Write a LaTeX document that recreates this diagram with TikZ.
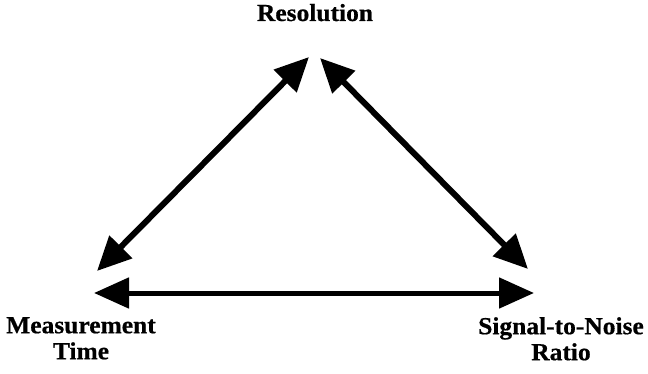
\documentclass[tikz,border=0pt]{standalone}
\usepackage{fontspec}
\setmainfont{Liberation Serif}
\newfontfamily\lblfont{Liberation Serif}[FakeStretch=1.04, FakeBold=0.6]
\usetikzlibrary{arrows.meta}
\tikzset{
  lbl/.style={font=\lblfont\bfseries\fontsize{24.5pt}{26pt}\selectfont, align=center, inner sep=0pt},
  dbl/.style={line width=6pt, {Triangle[length=34pt,width=31pt]}-{Triangle[length=34pt,width=31pt]}},
  hdbl/.style={line width=5pt, {Triangle[length=35pt,width=30pt]}-{Triangle[length=35pt,width=30pt]}}
}
\begin{document}
\begin{tikzpicture}[x=1pt,y=-1pt]
\useasboundingbox (0,0) rectangle (648,374);
\node[lbl, anchor=base] (res) at (315,21) {Resolution};
\node[lbl, anchor=north] (mt) at (81,317) {Measurement\\Time};
\node[lbl, anchor=north] (snr) at (561,317) {Signal-to-Noise\\Ratio};
\coordinate (a1) at (97,271);
\coordinate (a2) at (309,57);
\coordinate (b1) at (320,58);
\coordinate (b2) at (528,269);
\coordinate (c1) at (94,293);
\coordinate (c2) at (534,293);
\draw[dbl] (a1) -- (a2);
\draw[dbl] (b1) -- (b2);
\draw[hdbl] (c1) -- (c2);
\end{tikzpicture}
\end{document}
